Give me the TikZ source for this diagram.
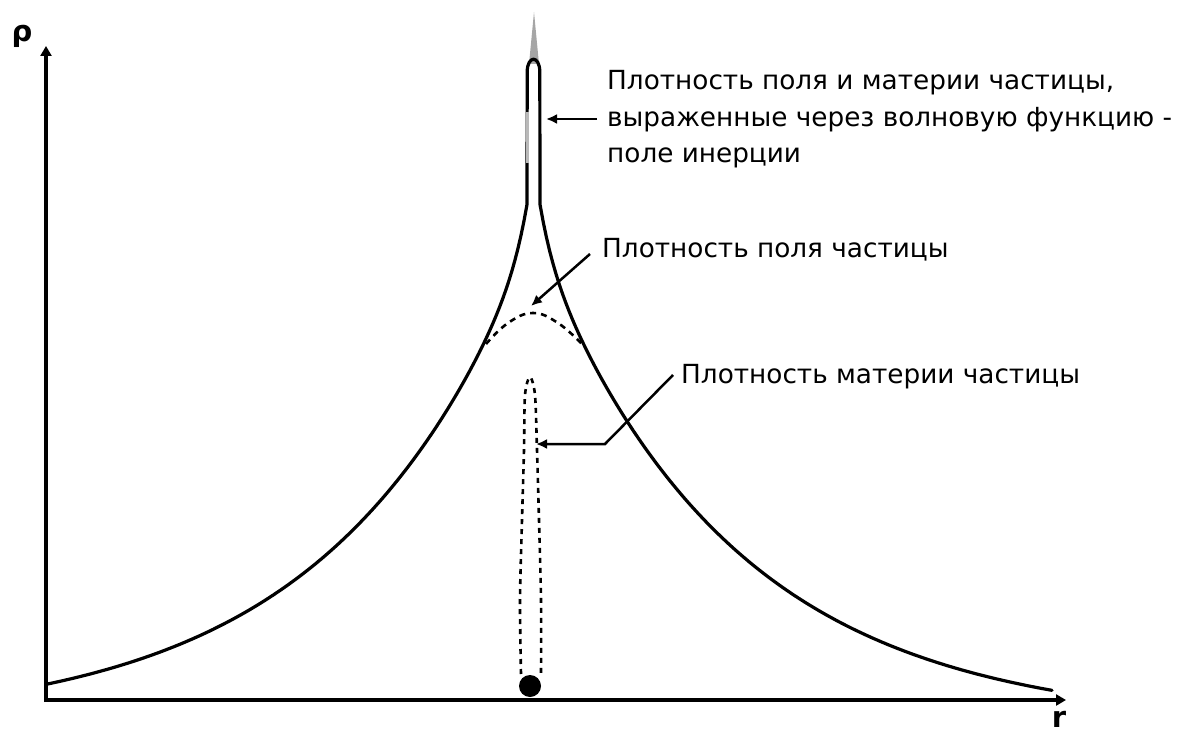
\documentclass[tikz,border=0pt]{standalone}
\usepackage{fontspec}
\setmainfont{DejaVu Sans}
\usetikzlibrary{arrows.meta}
\tikzset{
  curveline/.style={line width=3.2pt, line join=round, line cap=round},
  axisline/.style={line width=3.4pt, -{Triangle[length=10pt,width=11pt]}},
  arr/.style={line width=2.8pt, -{Latex[length=11pt,width=10pt]}},
  leader/.style={line width=2.5pt, -{Latex[length=11pt,width=10pt]}},
  dashline/.style={line width=2.6pt, dash pattern=on 6pt off 5pt},
  lbl/.style={inner sep=0pt, anchor=base west, font=\fontsize{26.3}{36}\selectfont},
  axlbl/.style={inner sep=0pt, font=\bfseries\fontsize{29}{31}\selectfont},
}
\begin{document}
\begin{tikzpicture}[x=1pt,y=-1pt]
\useasboundingbox (0,0) rectangle (1178,735);
% axes
\coordinate (ytip) at (46,46);
\coordinate (xtip) at (1066,700);
\draw[axisline] (46,702) -- (ytip);
\draw[axisline] (44,700) -- (xtip);
\node[axlbl] (rho) at (22,36) {ρ};
\node[axlbl, anchor=north] (r) at (1059,711) {r};
% spike
\fill[gray!70] (529,64) -- (534,12) -- (539,64) -- cycle;
% main curve
\draw[curveline]
  plot[domain=-486.5:-6.5, samples=160] ({533.5+\x}, {699 - (489*exp(\x/197) - 26.5 + 76*exp(\x/14))})
  -- (527.2,72) .. controls (527.2,55) and (539.8,55) .. (539.8,72)
  -- plot[domain=6.5:518.5, samples=160] ({533.5+\x}, {699 - (489*exp(-\x/197) - 26.5 + 76*exp(-\x/14))});
\draw[gray!55, line width=3.4pt] (527.2,112) -- (527.2,163);
% field density dome
\draw[dashline] plot[smooth, tension=0.7] coordinates {(486,344) (508,323) (533,313) (558,323) (582,344)};
% matter density loop
\draw[dashline, dash pattern=on 5pt off 5pt] plot[smooth, tension=0.5] coordinates {
 (521,674) (520,600) (522,520) (524,450) (525,395) (530,377)
 (535,395) (537,450) (539,520) (541,600) (541,674)};
\node[circle, fill=black, inner sep=0pt, minimum size=22pt] (dot) at (530,686) {};
% labels
\node[lbl] (l1a) at (607,90) {Плотность поля и материи частицы,};
\node[lbl] (l1b) at (607,127) {выраженные через волновую функцию -};
\node[lbl] (l1c) at (607,163) {поле инерции};
\node[lbl] (l2) at (602,258) {Плотность поля частицы};
\node[lbl] (l3) at (681,383) {Плотность материи частицы};
% connectors
\coordinate (a1s) at (597,119);
\coordinate (a1e) at (546,119);
\draw[arr] (a1s) -- (a1e);
\coordinate (a2s) at (590,254);
\coordinate (a2e) at (531,306);
\draw[leader] (a2s) -- (a2e);
\coordinate (a3s) at (673,375);
\coordinate (a3m) at (605,444);
\coordinate (a3e) at (536,444);
\draw[leader] (a3s) -- (a3m) -- (a3e);
\end{tikzpicture}
\end{document}
